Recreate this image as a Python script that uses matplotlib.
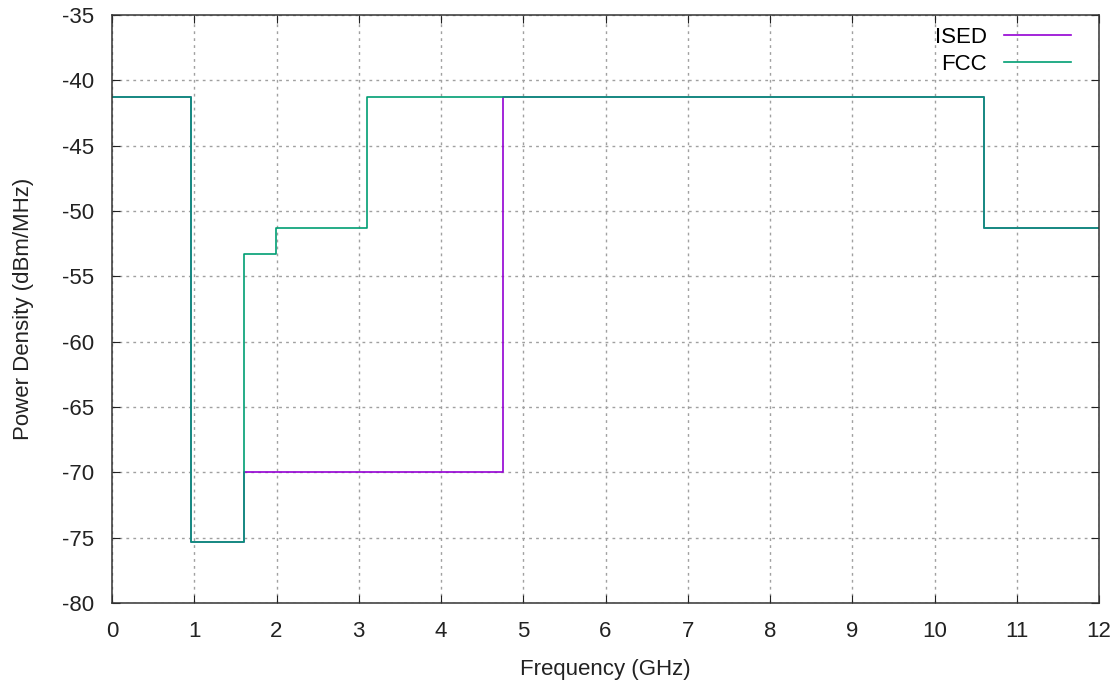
import numpy as np
import matplotlib
matplotlib.use('Agg')
import matplotlib.pyplot as plt

# UWB emission masks (step edges in GHz, level in dBm/MHz)
ised_freq = [0, 0.96, 1.61, 4.75, 10.6, 12]
ised_level = [-41.3, -75.3, -70.0, -41.3, -51.3, -51.3]

fcc_freq = [0, 0.96, 1.61, 1.99, 3.1, 10.6, 12]
fcc_level = [-41.3, -75.3, -53.3, -51.3, -41.3, -51.3, -51.3]

xticks = np.arange(0, 13, 1)
yticks = np.arange(-80, -34, 5)

plt.rcParams['font.family'] = ['Liberation Sans', 'DejaVu Sans']
plt.rcParams['axes.unicode_minus'] = False

fs = 16

fig = plt.figure(figsize=(11.2, 6.85), dpi=100)
ax = fig.add_axes([0.1, 0.1197, 0.88125, 0.8584])

ax.step(ised_freq, ised_level, where='post', color='#9400d3', lw=1.2, label='ISED')
ax.step(fcc_freq, fcc_level, where='post', color='#009e73', lw=1.2, label='FCC')

ax.set_xlim(0, 12)
ax.set_ylim(-80, -35)
ax.set_xticks(xticks)
ax.set_yticks(yticks)
ax.tick_params(direction='in', top=True, right=True, length=6, labelsize=fs,
               colors='#222222', pad=13)
ax.grid(True, color='#a0a0a0', linestyle=(0, (2, 3)), lw=1)
for s in ax.spines.values():
    s.set_color('#333333')
    s.set_linewidth(1.1)

ax.set_xlabel('Frequency (GHz)', fontsize=fs, color='#222222', labelpad=12)
ax.set_ylabel('Power Density (dBm/MHz)', fontsize=fs, color='#222222', labelpad=20)

leg = ax.legend(loc='upper right', bbox_to_anchor=(0.9716, 0.98), frameon=False,
                markerfirst=False, handlelength=3.0, fontsize=fs, borderpad=0,
                borderaxespad=0, labelspacing=0.28, handletextpad=0.78)

fig.savefig('out.png', dpi=100)
